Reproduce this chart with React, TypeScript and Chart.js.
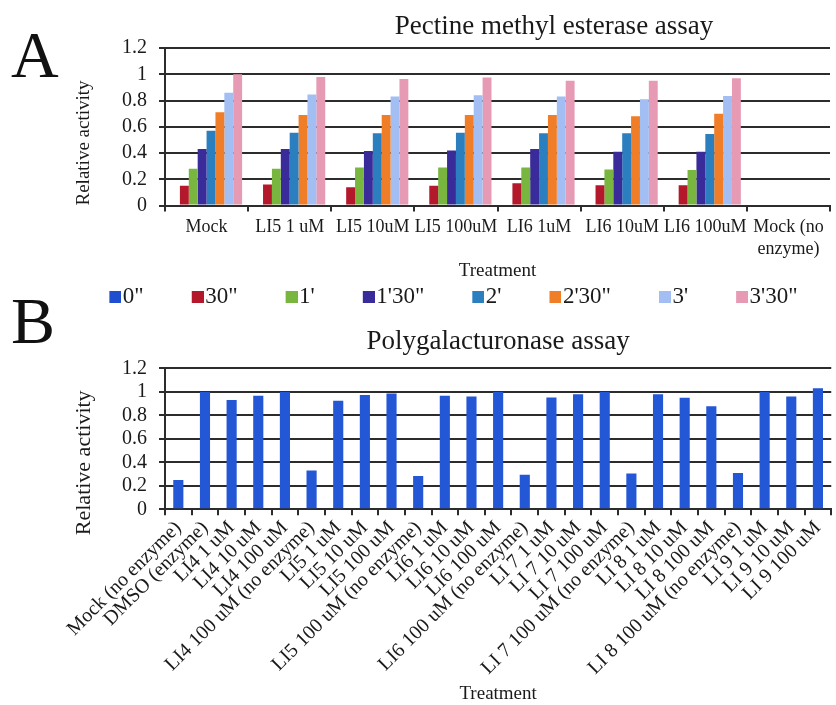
import React, { useEffect, useRef } from 'react';
import { Chart, registerables } from 'chart.js';

Chart.register(...registerables);

const SERIF = '"Liberation Serif", "Times New Roman", Times, serif';
const INK = '#1a1a1a';
const RULE = '#2c2c2c';

// ---------------- Panel A : Pectine methyl esterase assay ----------------
const titleA = 'Pectine methyl esterase assay';
const treatmentsA: (string | string[])[] = [
  'Mock',
  'LI5 1 uM',
  'LI5 10uM',
  'LI5 100uM',
  'LI6 1uM',
  'LI6 10uM',
  'LI6 100uM',
  ['Mock (no', 'enzyme)'],
];
const timeLabels = ['0"', '30"', "1'", "1'30\"", "2'", "2'30\"", "3'", "3'30\""];
const timeColors = ['#1F4FD0', '#B3192B', '#78B640', '#3A2B9A', '#2C7FBF', '#F07D27', '#A3BEF2', '#E69AB3'];
const at0s = [0, 0, 0, 0, 0, 0, 0, 0];
const at30s = [0.15, 0.16, 0.14, 0.15, 0.17, 0.155, 0.155, 0];
const at1m = [0.28, 0.28, 0.29, 0.29, 0.29, 0.275, 0.27, 0];
const at1m30 = [0.43, 0.43, 0.415, 0.42, 0.43, 0.41, 0.41, 0];
const at2m = [0.57, 0.555, 0.55, 0.555, 0.55, 0.55, 0.545, 0];
const at2m30 = [0.71, 0.69, 0.69, 0.69, 0.69, 0.68, 0.7, 0];
const at3m = [0.86, 0.845, 0.83, 0.84, 0.83, 0.81, 0.835, 0];
const at3m30 = [1.0, 0.98, 0.963, 0.975, 0.95, 0.95, 0.97, 0];
const seriesA = [at0s, at30s, at1m, at1m30, at2m, at2m30, at3m, at3m30];

// ---------------- Panel B : Polygalacturonase assay ----------------
const titleB = 'Polygalacturonase assay';
const treatmentsB = [
  'Mock (no enzyme)',
  'DMSO (enzyme)',
  'LI4 1 uM',
  'LI4 10 uM',
  'LI4 100 uM',
  'LI4 100 uM (no enzyme)',
  'LI5 1 uM',
  'LI5 10 uM',
  'LI5 100 uM',
  'LI5 100 uM (no enzyme)',
  'LI6 1 uM',
  'LI6 10 uM',
  'LI6 100 uM',
  'LI6 100 uM (no enzyme)',
  'LI 7 1 uM',
  'LI 7 10 uM',
  'LI 7 100 uM',
  'LI 7 100 uM (no enzyme)',
  'LI 8 1 uM',
  'LI 8 10 uM',
  'LI 8 100 uM',
  'LI 8 100 uM (no enzyme)',
  'LI 9 1 uM',
  'LI 9 10 uM',
  'LI 9 100 uM',
];
const activityB = [
  0.25, 1.0, 0.93, 0.967, 1.0, 0.33, 0.925, 0.973, 0.987, 0.284, 0.967, 0.96, 1.0,
  0.295, 0.953, 0.98, 1.0, 0.306, 0.98, 0.95, 0.877, 0.31, 1.0, 0.96, 1.03,
];
const barColorB = '#2357D5';

// ---------------- shared axis texts ----------------
const yAxisTitle = 'Relative activity';
const xAxisTitle = 'Treatment';
const yMin = 0;
const yMax = 1.2;
const yTickCount = 7; // 0, 0.2, ... 1.2

const fmt = (v: number) => {
  const s = Number(v).toFixed(1);
  return s.endsWith('.0') ? s.slice(0, -2) : s;
};

const floatTitle = {
  id: 'floatTitle',
  afterDraw(chart: any, _args: any, opts: any) {
    if (!opts || !opts.text) return;
    const { ctx, chartArea } = chart;
    ctx.save();
    ctx.font = `${opts.size}px ${SERIF}`;
    ctx.fillStyle = opts.color;
    ctx.textAlign = 'center';
    ctx.textBaseline = 'middle';
    ctx.fillText(opts.text, chartArea.left + chartArea.width * opts.xFrac, opts.y);
    ctx.restore();
  },
};

function yScale(titleText: string, titleSize: number, align: string, pad: { top: number; bottom: number }) {
  return {
    min: yMin,
    max: yMax,
    ticks: {
      count: yTickCount,
      autoSkip: false,
      color: INK,
      padding: 12,
      font: { family: SERIF, size: 20 },
      callback: (v: any) => fmt(v),
    },
    grid: { color: RULE, lineWidth: 2, tickLength: 6, drawTicks: true },
    border: { display: true, color: RULE, width: 2 },
    title: {
      display: true,
      text: titleText,
      color: INK,
      align,
      font: { family: SERIF, size: titleSize },
      padding: pad,
    },
  };
}

function makeSwatch(color: string) {
  const c = document.createElement('canvas');
  c.width = 50;
  c.height = 12;
  const g = c.getContext('2d')!;
  g.fillStyle = color;
  g.fillRect(38, 0, 12, 12);
  return c;
}

export default function App() {
  const refA = useRef<HTMLCanvasElement>(null);
  const refB = useRef<HTMLCanvasElement>(null);

  useEffect(() => {
    const swatches = timeColors.map(makeSwatch);
    const chartA = new Chart(refA.current!, {
      type: 'bar',
      data: {
        labels: treatmentsA as any,
        datasets: seriesA.map((d, i) => ({
          label: timeLabels[i],
          data: d,
          backgroundColor: timeColors[i],
          borderWidth: 0,
          barPercentage: 1,
          categoryPercentage: 0.855,
        })),
      },
      plugins: [floatTitle as any],
      options: {
        responsive: false,
        animation: false,
        events: [],
        layout: { padding: { top: 48, left: 49, right: 6, bottom: 0 } },
        plugins: {
          title: { display: false },
          tooltip: { enabled: false },
          floatTitle: { text: titleA, size: 27, color: INK, xFrac: 0.585, y: 27 },
          legend: {
            display: true,
            position: 'bottom',
            align: 'center',
            labels: {
              usePointStyle: true,
              pointStyleWidth: 30,
              boxHeight: 12,
              padding: 20,
              color: INK,
              font: { family: SERIF, size: 23 },
              generateLabels: (chart: any) =>
                chart.data.datasets.map((ds: any, i: number) => ({
                  text: ds.label,
                  fillStyle: ds.backgroundColor,
                  strokeStyle: 'rgba(0,0,0,0)',
                  lineWidth: 0,
                  hidden: false,
                  datasetIndex: i,
                  pointStyle: swatches[i],
                  fontColor: INK,
                })),
            },
          },
        } as any,
        scales: {
          x: {
            offset: true,
            grid: { offset: true, drawOnChartArea: false, tickLength: 6, color: RULE, lineWidth: 2 },
            border: { display: true, color: RULE, width: 2 },
            ticks: {
              autoSkip: false,
              maxRotation: 0,
              minRotation: 0,
              padding: 5,
              color: INK,
              font: { family: SERIF, size: 18 },
            },
            title: {
              display: true,
              text: xAxisTitle,
              color: INK,
              font: { family: SERIF, size: 19 },
              padding: { top: -4.6, bottom: -17.9 },
            },
          },
          y: yScale(yAxisTitle, 19, 'start', { top: 23.6, bottom: 14.6 }) as any,
        },
      },
    });

    const chartB = new Chart(refB.current!, {
      type: 'bar',
      data: {
        labels: treatmentsB,
        datasets: [
          {
            label: yAxisTitle,
            data: activityB,
            backgroundColor: barColorB,
            borderWidth: 0,
            barPercentage: 0.38,
            categoryPercentage: 1,
          },
        ],
      },
      options: {
        responsive: false,
        animation: false,
        events: [],
        layout: { padding: { top: 0, left: 49, right: 3, bottom: 0 } },
        plugins: {
          legend: { display: false },
          tooltip: { enabled: false },
          title: {
            display: true,
            text: titleB,
            fullSize: false,
            color: INK,
            font: { family: SERIF, size: 27, weight: 'normal' },
            padding: { top: 21, bottom: 10 },
          },
        },
        scales: {
          x: {
            offset: true,
            grid: { offset: true, drawOnChartArea: false, tickLength: 6, color: RULE, lineWidth: 2 },
            border: { display: true, color: RULE, width: 2 },
            ticks: {
              autoSkip: false,
              maxRotation: 45,
              minRotation: 45,
              padding: 1,
              color: INK,
              font: { family: SERIF, size: 20 },
            },
            title: {
              display: true,
              text: xAxisTitle,
              color: INK,
              font: { family: SERIF, size: 19 },
              padding: { top: 1.4, bottom: 0 },
            },
          },
          y: yScale(yAxisTitle + '    ', 22, 'end', { top: 21.8, bottom: 12.8 }) as any,
        },
      },
    });

    return () => {
      chartA.destroy();
      chartB.destroy();
    };
  }, []);

  const letter: React.CSSProperties = {
    position: 'absolute',
    left: 11,
    fontFamily: SERIF,
    fontSize: 66,
    lineHeight: '66px',
    color: '#111',
    margin: 0,
  };

  return (
    <div style={{ position: 'absolute', left: 0, top: 0, width: 836, height: 705, background: '#fff', overflow: 'hidden' }}>
      <canvas ref={refA} width={836} height={318} style={{ position: 'absolute', left: 0, top: 0, display: 'block' }} />
      <canvas ref={refB} width={836} height={400} style={{ position: 'absolute', left: 0, top: 305, display: 'block' }} />
      <div style={{ ...letter, top: 22 }}>A</div>
      <div style={{ ...letter, top: 288 }}>B</div>
    </div>
  );
}
